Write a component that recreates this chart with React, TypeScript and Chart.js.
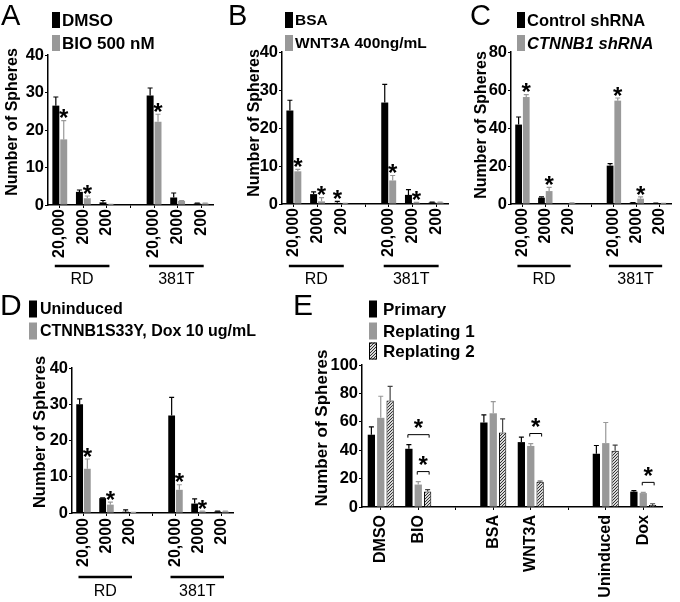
import React, { useEffect, useRef } from 'react';
import { Chart, registerables } from 'chart.js';

Chart.register(...registerables);

const FONT = "'Liberation Sans', Arial, Helvetica, sans-serif";
const BLACK = '#000000';
const GREY = '#999999';
const HATCH_ERR = '#444444';

// ---------- Panels A–D: shared categories ----------
const doseLabels = ['20,000', '2000', '200', '', '20,000', '2000', '200'];
const cellLines = ['RD', '381T'];
const cellLineSpans = [[0, 2], [4, 6]];

// ---------- Panel A ----------
const aNames = ['DMSO', 'BIO 500 nM'];
const aDmso = [26.5, 3.5, 0.7, null, 29.2, 2.0, 0.4];
const aDmsoErr = [2.3, 0.5, 0.5, null, 2.0, 1.2, 0.1];
const aDmsoStars = [false, false, false, false, false, false, false];
const aBio = [17.5, 1.8, 0.1, null, 22.2, 1.1, 0.4];
const aBioErr = [5.0, 0.6, 0.1, null, 2.0, 0.1, 0.1];
const aBioStars = [true, true, false, false, true, false, false];

// ---------- Panel B ----------
const bNames = ['BSA', 'WNT3A 400ng/mL'];
const bBsa = [24.6, 2.6, 0.3, null, 26.7, 2.4, 0.4];
const bBsaErr = [2.7, 0.6, 0.4, null, 4.8, 1.4, 0.1];
const bBsaStars = [false, false, true, false, false, false, false];
const bWnt = [8.6, 0.7, 0.1, null, 6.2, 0.35, 0.4];
const bWntErr = [0.5, 1.0, 0.1, null, 1.3, 0.1, 0.1];
const bWntStars = [true, true, false, false, true, true, false];

// ---------- Panel C ----------
const cNames = ['Control shRNA', 'CTNNB1 shRNA'];
const cCtrl = [41.8, 3.3, 0, null, 20.2, 0.7, 0.4];
const cCtrlErr = [4.0, 0.4, 0, null, 1.0, 0.1, 0.1];
const cCtrlStars = [false, false, false, false, false, false, false];
const cSh = [56.3, 6.8, 0.5, null, 54.4, 2.8, 0.3];
const cShErr = [1.3, 2.0, 0.1, null, 1.4, 0.9, 0.1];
const cShStars = [true, true, false, false, true, true, false];

// ---------- Panel D ----------
const dNames = ['Uninduced', 'CTNNB1S33Y, Dox 10 ug/mL'];
const dUnind = [30.0, 4.1, 0.35, null, 26.9, 2.6, 0.4];
const dUnindErr = [1.5, 0.1, 0.5, null, 5.0, 1.3, 0.1];
const dUnindStars = [false, false, false, false, false, false, false];
const dDox = [12.2, 2.3, 0.1, null, 6.4, 0.4, 0.4];
const dDoxErr = [2.7, 0.7, 0.1, null, 1.4, 0.1, 0.1];
const dDoxStars = [true, true, false, false, true, true, false];

// ---------- Panel E ----------
const eLabels = ['DMSO', 'BIO', '', 'BSA', 'WNT3A', '', 'Uninduced', 'Dox'];
const eNames = ['Primary', 'Replating 1', 'Replating 2'];
const ePrimary = [50.9, 41.0, null, 59.5, 45.7, null, 37.5, 10.8];
const ePrimaryErr = [5.5, 2.9, null, 5.4, 3.5, null, 5.8, 0.7];
const eRep1 = [62.8, 15.8, null, 66.0, 43.0, null, 45.0, 9.8];
const eRep1Err = [15.2, 2.1, null, 8.2, 1.7, null, 14.5, 0.5];
const eRep2 = [75.0, 10.9, null, 52.5, 17.8, null, 39.6, 1.4];
const eRep2Err = [10.0, 1.4, null, 9.5, 0.5, null, 4.0, 0.9];
// significance brackets: category index, from series, to series
const eBrackets = [
  { cat: 1, from: 0, to: 2 },
  { cat: 1, from: 1, to: 2 },
  { cat: 4, from: 1, to: 2 },
  { cat: 7, from: 1, to: 2 },
];

const W = 680;
const H = 602;

function makeHatch(): CanvasPattern | string {
  const c = document.createElement('canvas');
  c.width = 3;
  c.height = 3;
  const g = c.getContext('2d');
  if (!g) return GREY;
  g.fillStyle = '#d8d8d8';
  g.fillRect(0, 0, 3, 3);
  g.strokeStyle = '#333';
  g.lineWidth = 1;
  g.beginPath();
  g.moveTo(-1, 4);
  g.lineTo(4, -1);
  g.moveTo(-1, 1);
  g.lineTo(1, -1);
  g.moveTo(2, 4);
  g.lineTo(4, 2);
  g.stroke();
  return g.createPattern(c, 'repeat') || GREY;
}

function drawStar(ctx: CanvasRenderingContext2D, x: number, cy: number) {
  const size = 24;
  ctx.save();
  ctx.fillStyle = BLACK;
  ctx.font = `bold ${size}px ${FONT}`;
  ctx.textAlign = 'center';
  ctx.textBaseline = 'alphabetic';
  ctx.fillText('*', x, cy + size * 0.57);
  ctx.restore();
}

function makeFigurePlugin(spec: any) {
  return {
    id: 'figure' + spec.letter.text,
    afterDatasetsDraw(chart: any) {
      const ctx: CanvasRenderingContext2D = chart.ctx;
      const ys = chart.scales.y;
      const errTops: number[][] = [];
      chart.data.datasets.forEach((ds: any, i: number) => {
        const meta = chart.getDatasetMeta(i);
        errTops[i] = [];
        meta.data.forEach((el: any, j: number) => {
          const v = ds.data[j];
          if (v == null) return;
          const e = ds.errors[j] || 0;
          const top = ys.getPixelForValue(v + e);
          errTops[i][j] = top;
          if (e > 0) {
            ctx.save();
            ctx.strokeStyle = ds.errColor;
            ctx.lineWidth = 1.2;
            ctx.beginPath();
            ctx.moveTo(el.x, el.y);
            ctx.lineTo(el.x, top);
            ctx.moveTo(el.x - 2.5, top);
            ctx.lineTo(el.x + 2.5, top);
            ctx.stroke();
            ctx.restore();
          }
          if (ds.stars && ds.stars[j]) drawStar(ctx, el.x, top - spec.starGap);
        });
      });
      (spec.brackets || []).forEach((b: any) => {
        const elA = chart.getDatasetMeta(b.from).data[b.cat];
        const elB = chart.getDatasetMeta(b.to).data[b.cat];
        let minTop = Infinity;
        for (let k = b.from; k <= b.to; k++) minTop = Math.min(minTop, errTops[k][b.cat]);
        const yb = minTop - 10;
        const x1 = elA.x - 1;
        const x2 = elB.x + 1.5;
        ctx.save();
        ctx.strokeStyle = BLACK;
        ctx.lineWidth = 1;
        ctx.beginPath();
        ctx.moveTo(x1, yb + 3);
        ctx.lineTo(x1, yb);
        ctx.lineTo(x2, yb);
        ctx.lineTo(x2, yb + 3);
        ctx.stroke();
        ctx.restore();
        drawStar(ctx, (x1 + x2) / 2, yb - 12);
      });
    },
    afterDraw(chart: any) {
      const ctx: CanvasRenderingContext2D = chart.ctx;
      ctx.save();
      ctx.fillStyle = BLACK;
      // panel letter
      ctx.font = `normal ${spec.letter.size}px ${FONT}`;
      ctx.textAlign = 'left';
      ctx.textBaseline = 'alphabetic';
      ctx.fillText(spec.letter.text, spec.letter.x, spec.letter.y);
      // legend
      const lg = spec.legend;
      chart.data.datasets.forEach((ds: any, i: number) => {
        const cy = lg.rows[i];
        ctx.fillStyle = ds.backgroundColor;
        ctx.fillRect(lg.x, cy - lg.boxH / 2, lg.boxW, lg.boxH);
        if (ds.borderWidth) {
          ctx.strokeStyle = BLACK;
          ctx.lineWidth = 1;
          ctx.strokeRect(lg.x + 0.5, cy - lg.boxH / 2 + 0.5, lg.boxW - 1, lg.boxH - 1);
        }
        ctx.fillStyle = BLACK;
        ctx.font = `${ds.italic ? 'italic ' : ''}bold ${lg.size}px ${FONT}`;
        ctx.textBaseline = 'middle';
        ctx.fillText(ds.label, lg.textX, cy + 1);
      });
      // y-axis title
      ctx.save();
      ctx.translate(spec.title.x, spec.title.y);
      ctx.rotate(-Math.PI / 2);
      ctx.font = `bold ${spec.title.size}px ${FONT}`;
      ctx.textAlign = 'center';
      ctx.textBaseline = 'middle';
      ctx.fillStyle = BLACK;
      ctx.fillText('Number of Spheres', 0, 0);
      ctx.restore();
      // cell-line group underlines
      if (spec.groups) {
        const xs = chart.scales.x;
        cellLineSpans.forEach((span, gi) => {
          const xa = xs.getPixelForTick(span[0]) - 5;
          const xb = xs.getPixelForTick(span[1]) + 2.5;
          ctx.strokeStyle = BLACK;
          ctx.lineWidth = 2.5;
          ctx.beginPath();
          ctx.moveTo(xa, spec.groups.lineY);
          ctx.lineTo(xb, spec.groups.lineY);
          ctx.stroke();
          ctx.font = `normal 16px ${FONT}`;
          ctx.textAlign = 'center';
          ctx.textBaseline = 'middle';
          ctx.fillText(cellLines[gi], (xa + xb) / 2, spec.groups.textY);
        });
      }
      ctx.restore();
    },
  };
}

function buildChart(canvas: HTMLCanvasElement, spec: any) {
  const area = spec.area;
  const tickFont = { family: FONT, size: 16, weight: 'bold' as const };
  const yTickFont = { family: FONT, size: 16.5, weight: 'bold' as const };
  return new Chart(canvas, {
    type: 'bar',
    data: {
      labels: spec.labels,
      datasets: spec.datasets.map((d: any) => ({
        label: d.label,
        data: d.data,
        backgroundColor: d.color,
        borderColor: BLACK,
        borderWidth: d.border ? 1 : 0,
        categoryPercentage: spec.catPct,
        barPercentage: spec.barPct,
        errors: d.err,
        errColor: d.errColor,
        stars: d.stars,
        italic: d.italic,
      })),
    },
    options: {
      responsive: false,
      animation: false,
      devicePixelRatio: 1,
      events: [],
      layout: {
        autoPadding: false,
        padding: { left: 0, top: area.top, right: W - area.right, bottom: 0 },
      },
      scales: {
        x: {
          type: 'category',
          offset: true,
          afterFit: (s: any) => {
            s.height = H - area.bottom;
          },
          grid: {
            display: true,
            drawOnChartArea: false,
            drawTicks: true,
            tickLength: 3,
            color: BLACK,
            lineWidth: 1,
            offset: false,
          },
          border: { display: true, color: BLACK, width: 1.5 },
          ticks: {
            autoSkip: false,
            minRotation: 90,
            maxRotation: 90,
            padding: spec.xPad,
            color: BLACK,
            font: tickFont,
          },
        },
        y: {
          min: 0,
          max: spec.yMax,
          afterFit: (s: any) => {
            s.width = area.left;
          },
          grid: {
            display: true,
            drawOnChartArea: false,
            drawTicks: true,
            tickLength: 3,
            color: BLACK,
            lineWidth: 1,
          },
          border: { display: true, color: BLACK, width: 1.5 },
          ticks: { stepSize: spec.yStep, padding: 1, color: BLACK, font: yTickFont },
        },
      },
      plugins: {
        legend: { display: false },
        tooltip: { enabled: false },
        title: { display: false },
      },
    } as any,
    plugins: [makeFigurePlugin(spec)],
  });
}

function twoSeries(names: string[], blk: any[], blkErr: any[], blkStars: boolean[], gry: any[], gryErr: any[], gryStars: boolean[], italicSecond = false) {
  return [
    { label: names[0], data: blk, err: blkErr, stars: blkStars, color: BLACK, errColor: BLACK },
    { label: names[1], data: gry, err: gryErr, stars: gryStars, color: GREY, errColor: GREY, italic: italicSecond },
  ];
}

function buildSpecs(hatch: any) {
  const common = { labels: doseLabels, catPct: 0.67, barPct: 0.88, starGap: 8 };
  return [
    {
      ...common,
      letter: { text: 'A', x: 1, y: 25, size: 29 },
      yMax: 40, yStep: 10, xPad: 1,
      area: { left: 48, top: 55, right: 213, bottom: 205 },
      datasets: twoSeries(aNames, aDmso, aDmsoErr, aDmsoStars, aBio, aBioErr, aBioStars),
      legend: { x: 52, textX: 62, rows: [20, 43], boxW: 8, boxH: 16, size: 17 },
      title: { x: 13, y: 122, size: 16 },
      groups: { lineY: 266, textY: 280 },
    },
    {
      ...common,
      letter: { text: 'B', x: 228, y: 25, size: 29 },
      yMax: 40, yStep: 10, xPad: 1,
      area: { left: 282, top: 52, right: 448, bottom: 204 },
      datasets: twoSeries(bNames, bBsa, bBsaErr, bBsaStars, bWnt, bWntErr, bWntStars),
      legend: { x: 285, textX: 295, rows: [20, 43], boxW: 8, boxH: 16, size: 15.5 },
      title: { x: 255, y: 123, size: 16 },
      groups: { lineY: 266, textY: 280 },
    },
    {
      ...common,
      letter: { text: 'C', x: 470, y: 25, size: 29 },
      yMax: 80, yStep: 20, xPad: 1,
      area: { left: 511, top: 52, right: 678, bottom: 204 },
      datasets: twoSeries(cNames, cCtrl, cCtrlErr, cCtrlStars, cSh, cShErr, cShStars, true),
      legend: { x: 517, textX: 527, rows: [20, 43], boxW: 8, boxH: 16, size: 16.5 },
      title: { x: 482, y: 125, size: 16 },
      groups: { lineY: 266, textY: 280 },
    },
    {
      ...common,
      letter: { text: 'D', x: 0, y: 315, size: 30 },
      yMax: 40, yStep: 10, xPad: 2,
      area: { left: 72, top: 368, right: 233, bottom: 513 },
      datasets: twoSeries(dNames, dUnind, dUnindErr, dUnindStars, dDox, dDoxErr, dDoxStars),
      legend: { x: 29, textX: 40, rows: [309, 331], boxW: 8, boxH: 17, size: 16 },
      title: { x: 40, y: 432, size: 16.5 },
      groups: { lineY: 577, textY: 592 },
    },
    {
      labels: eLabels, catPct: 0.75, barPct: 0.78, starGap: 8,
      letter: { text: 'E', x: 293, y: 315, size: 30 },
      yMax: 100, yStep: 20, xPad: 5,
      area: { left: 362, top: 365, right: 662, bottom: 507 },
      datasets: [
        { label: eNames[0], data: ePrimary, err: ePrimaryErr, color: BLACK, errColor: BLACK },
        { label: eNames[1], data: eRep1, err: eRep1Err, color: GREY, errColor: GREY },
        { label: eNames[2], data: eRep2, err: eRep2Err, color: hatch, errColor: HATCH_ERR, border: true },
      ],
      brackets: eBrackets,
      legend: { x: 369, textX: 383, rows: [309, 331, 351], boxW: 8, boxH: 17, size: 17 },
      title: { x: 322, y: 428, size: 17 },
      groups: null,
    },
  ];
}

export default function App() {
  const refs = useRef<(HTMLCanvasElement | null)[]>([]);
  useEffect(() => {
    document.body.style.margin = '0';
    Chart.defaults.font.family = FONT;
    Chart.defaults.color = BLACK;
    const specs = buildSpecs(makeHatch());
    const charts = specs.map((s, i) => buildChart(refs.current[i] as HTMLCanvasElement, s));
    return () => charts.forEach((c) => c.destroy());
  }, []);
  return (
    <div style={{ position: 'relative', width: W, height: H, background: '#fff', overflow: 'hidden' }}>
      {[0, 1, 2, 3, 4].map((i) => (
        <canvas
          key={i}
          ref={(el) => {
            refs.current[i] = el;
          }}
          width={W}
          height={H}
          style={{ position: 'absolute', left: 0, top: 0, width: W, height: H }}
        />
      ))}
    </div>
  );
}
